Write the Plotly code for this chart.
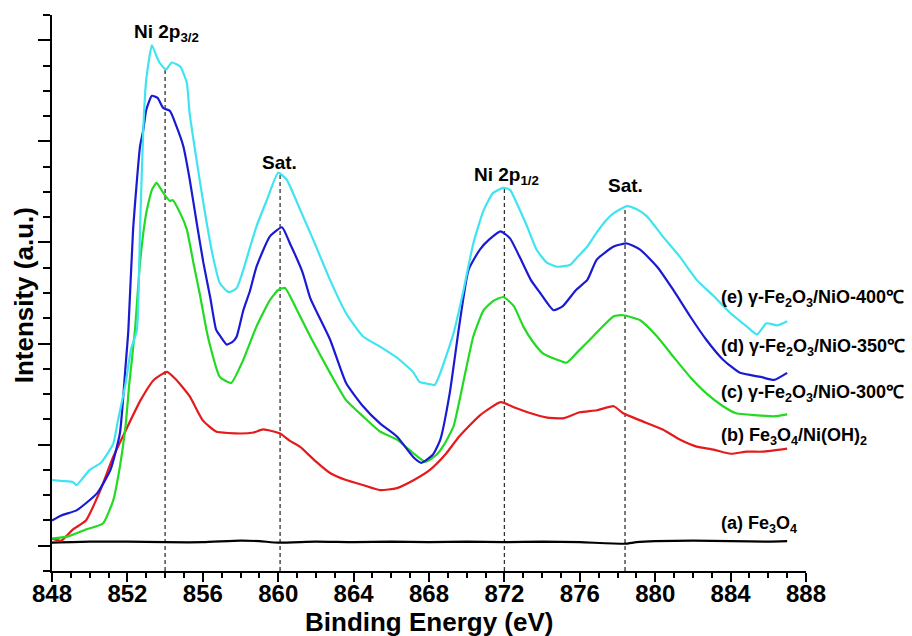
import numpy as np
import plotly.graph_objects as go

# ---- data ----
x_e = [848.0, 848.6, 849.1, 849.3, 849.6, 850.0, 850.6, 851.25, 851.5, 851.9, 852.2, 852.5, 852.67, 852.84, 853.0, 853.3, 853.55, 853.7, 854.05, 854.35, 854.8, 855.15, 855.3, 855.6, 855.85, 856.2, 856.55, 856.9, 857.27, 857.45, 857.8, 858.15, 858.5, 858.85, 859.4, 860.0, 860.45, 861.15, 861.85, 862.75, 863.6, 864.5, 865.4, 866.3, 867.15, 867.5, 868.0, 868.3, 868.6, 869.3, 869.8, 870.35, 870.9, 871.4, 871.95, 872.3, 872.65, 873.2, 873.7, 874.25, 874.8, 875.5, 875.9, 876.4, 876.9, 877.4, 877.8, 878.5, 879.0, 879.55, 880.4, 881.3, 882.2, 883.1, 884.0, 884.85, 885.4, 885.9, 886.5, 887.0]
y_e = [0.65, 0.64, 0.63, 0.60, 0.66, 0.75, 0.82, 1.01, 1.24, 1.60, 1.95, 2.13, 3.12, 4.11, 4.61, 4.95, 4.84, 4.78, 4.71, 4.78, 4.74, 4.58, 4.28, 3.90, 3.60, 3.20, 2.85, 2.60, 2.52, 2.51, 2.55, 2.73, 2.95, 3.16, 3.42, 3.69, 3.62, 3.33, 3.03, 2.63, 2.30, 2.07, 1.97, 1.86, 1.72, 1.62, 1.60, 1.59, 1.71, 2.10, 2.50, 2.99, 3.32, 3.49, 3.54, 3.52, 3.39, 3.16, 2.93, 2.80, 2.76, 2.78, 2.86, 2.96, 3.10, 3.22, 3.29, 3.36, 3.33, 3.26, 3.06, 2.86, 2.63, 2.47, 2.30, 2.17, 2.09, 2.20, 2.18, 2.22]

x_d = [848.0, 848.5, 849.3, 849.8, 850.4, 851.1, 851.6, 851.9, 852.05, 852.3, 852.67, 852.84, 853.0, 853.3, 853.6, 853.9, 854.26, 854.6, 854.97, 855.3, 855.68, 856.03, 856.4, 856.7, 856.9, 857.27, 857.6, 857.8, 858.15, 858.5, 858.85, 859.56, 860.2, 860.6, 861.3, 861.7, 862.75, 863.6, 864.5, 865.4, 866.3, 867.2, 867.6, 868.2, 868.6, 869.1, 869.6, 870.1, 870.7, 871.2, 871.8, 872.3, 872.8, 873.4, 873.9, 874.6, 875.1, 875.8, 876.4, 876.9, 877.8, 878.5, 879.2, 880.1, 880.96, 881.85, 882.7, 883.6, 884.5, 885.6, 886.3, 887.0]
y_d = [0.25, 0.30, 0.35, 0.42, 0.52, 0.75, 1.11, 1.77, 2.13, 3.12, 3.95, 4.11, 4.31, 4.45, 4.43, 4.33, 4.30, 4.15, 3.95, 3.63, 3.19, 2.80, 2.45, 2.14, 2.08, 1.99, 2.02, 2.07, 2.33, 2.52, 2.76, 3.06, 3.15, 3.00, 2.70, 2.45, 2.04, 1.61, 1.38, 1.21, 1.08, 0.87, 0.82, 0.90, 1.05, 1.51, 2.17, 2.73, 2.93, 3.03, 3.11, 3.04, 2.86, 2.63, 2.50, 2.33, 2.37, 2.53, 2.63, 2.83, 2.96, 2.99, 2.93, 2.76, 2.53, 2.27, 2.04, 1.84, 1.71, 1.67, 1.64, 1.71]

x_c = [848.0, 848.8, 849.8, 850.7, 851.25, 851.6, 851.9, 852.1, 852.4, 852.67, 853.0, 853.3, 853.55, 853.9, 854.26, 854.4, 854.8, 855.15, 855.5, 855.85, 856.2, 856.4, 856.9, 857.5, 858.15, 858.85, 859.56, 860.0, 860.36, 861.0, 861.7, 862.75, 863.6, 864.5, 865.4, 866.3, 867.2, 867.8, 868.4, 868.8, 869.3, 869.8, 870.35, 870.9, 871.4, 871.95, 872.5, 873.0, 873.5, 874.06, 874.8, 875.3, 875.9, 876.7, 877.8, 878.3, 879.2, 880.1, 880.96, 881.85, 882.7, 883.6, 884.3, 885.4, 886.3, 887.0]
y_c = [0.07, 0.09, 0.16, 0.22, 0.45, 0.78, 1.18, 1.60, 2.13, 2.80, 3.29, 3.52, 3.59, 3.49, 3.41, 3.42, 3.29, 3.13, 2.80, 2.48, 2.13, 1.97, 1.67, 1.61, 1.84, 2.17, 2.43, 2.53, 2.55, 2.33, 2.07, 1.71, 1.44, 1.28, 1.13, 1.05, 0.91, 0.83, 0.90, 1.00, 1.18, 1.60, 2.07, 2.33, 2.42, 2.46, 2.37, 2.17, 2.02, 1.90, 1.84, 1.81, 1.92, 2.07, 2.27, 2.28, 2.23, 2.07, 1.87, 1.67, 1.51, 1.38, 1.31, 1.29, 1.28, 1.30]

x_b = [848.0, 848.5, 849.1, 849.8, 850.5, 851.25, 851.96, 852.7, 853.4, 854.1, 854.6, 855.3, 856.0, 856.7, 857.97, 858.7, 859.2, 860.1, 860.6, 861.15, 861.9, 862.75, 863.6, 864.5, 865.4, 866.3, 867.2, 868.05, 868.9, 869.6, 870.7, 871.8, 872.5, 873.4, 874.2, 875.1, 876.0, 876.9, 877.8, 878.3, 879.2, 880.4, 881.3, 882.2, 883.1, 884.0, 884.85, 885.7, 887.0]
y_b = [0.07, 0.05, 0.16, 0.25, 0.52, 0.88, 1.16, 1.44, 1.64, 1.72, 1.64, 1.48, 1.24, 1.13, 1.11, 1.12, 1.15, 1.11, 1.04, 0.98, 0.85, 0.72, 0.65, 0.60, 0.55, 0.57, 0.65, 0.75, 0.91, 1.08, 1.29, 1.42, 1.37, 1.31, 1.27, 1.26, 1.32, 1.34, 1.38, 1.31, 1.24, 1.15, 1.05, 0.98, 0.95, 0.91, 0.93, 0.93, 0.96]

x_a = [848.0, 850.0, 852.0, 854.0, 856.0, 858.0, 859.0, 860.0, 862.0, 864.0, 866.0, 868.0, 870.0, 872.0, 874.0, 876.0, 878.4, 879.0, 880.0, 882.0, 884.0, 886.0, 887.0]
y_a = [0.03, 0.04, 0.04, 0.035, 0.035, 0.05, 0.045, 0.03, 0.04, 0.035, 0.04, 0.035, 0.04, 0.035, 0.04, 0.035, 0.02, 0.035, 0.045, 0.05, 0.045, 0.04, 0.045]

series_names = ["(a) Fe<sub>3</sub>O<sub>4</sub>",
                "(b) Fe<sub>3</sub>O<sub>4</sub>/Ni(OH)<sub>2</sub>",
                "(c) γ-Fe<sub>2</sub>O<sub>3</sub>/NiO-300℃",
                "(d) γ-Fe<sub>2</sub>O<sub>3</sub>/NiO-350℃",
                "(e) γ-Fe<sub>2</sub>O<sub>3</sub>/NiO-400℃"]
series_colors = ["#000000", "#E41A1C", "#22DA22", "#1A1AD4", "#3FE4F0"]

peak_positions = [854.0, 860.1, 872.0, 878.4]
peak_labels = ["Ni 2p<sub>3/2</sub>", "Sat.", "Ni 2p<sub>1/2</sub>", "Sat."]

x_title = "Binding Energy (eV)"
y_title = "Intensity (a.u.)"

xs = [x_a, x_b, x_c, x_d, x_e]
ys = [y_a, y_b, y_c, y_d, y_e]

FONT = "Arial, Liberation Sans, sans-serif"

fig = go.Figure()

# dashed guide lines from the top curve down to the axis
for p in peak_positions:
    top = float(np.interp(p, x_e, y_e))
    fig.add_trace(go.Scatter(x=[p, p], y=[-0.25, top], mode="lines",
                             line=dict(color="#333333", width=1.3, dash="4px,3px"),
                             showlegend=False, hoverinfo="skip"))

for x, y, c in zip(xs, ys, series_colors):
    fig.add_trace(go.Scatter(x=x, y=y, mode="lines",
                             line=dict(color=c, width=2.2, shape="spline", smoothing=0.5),
                             showlegend=False))

# series labels at right end
label_y = [0.21, 1.08, 1.51, 1.96, 2.45]
for name, ly in zip(series_names, label_y):
    fig.add_annotation(x=883.4, y=ly, text=name, showarrow=False,
                       xanchor="left", yanchor="middle",
                       font=dict(family=FONT, size=18, color="black", weight="bold"))

# peak labels
peak_label_x = [854.1, 860.05, 872.1, 878.4]
peak_label_y = [4.93, 3.67, 3.52, 3.44]
for px_, t, ly in zip(peak_label_x, peak_labels, peak_label_y):
    fig.add_annotation(x=px_, y=ly, text=t, showarrow=False,
                       xanchor="center", yanchor="bottom",
                       font=dict(family=FONT, size=19, color="black", weight="bold"))

# axis titles
fig.add_annotation(xref="paper", yref="paper", x=0.5, y=-0.092, text=x_title,
                   showarrow=False, xanchor="center", yanchor="middle",
                   font=dict(family=FONT, size=26, color="black", weight="bold"))
fig.add_annotation(xref="paper", yref="paper", x=-0.037, y=0.496, text=y_title,
                   showarrow=False, xanchor="center", yanchor="middle", textangle=-90,
                   font=dict(family=FONT, size=26, color="black", weight="bold"))

fig.update_layout(
    width=912, height=636,
    margin=dict(l=52, r=106, t=15, b=65),
    plot_bgcolor="white", paper_bgcolor="white",
    font=dict(family=FONT, color="black"),
)
fig.update_xaxes(
    range=[848, 888], tick0=848, dtick=4, automargin=False,
    showline=True, linewidth=2, linecolor="black", mirror=False,
    ticks="outside", ticklen=9, tickwidth=2, tickcolor="black",
    minor=dict(dtick=1, ticks="outside", ticklen=5, tickwidth=2, tickcolor="black"),
    showgrid=False, zeroline=False, ticklabelstandoff=-9,
    tickfont=dict(family=FONT, size=24, color="black", weight="bold"),
)
fig.update_yaxes(
    range=[-0.25, 5.25], tickvals=[0, 1, 2, 3, 4, 5], automargin=False,
    showticklabels=False,
    showline=True, linewidth=2, linecolor="black", mirror=False,
    ticks="outside", ticklen=12, tickwidth=2, tickcolor="black",
    minor=dict(dtick=0.25, tick0=0, ticks="outside", ticklen=7, tickwidth=2, tickcolor="black"),
    showgrid=False, zeroline=False,
)

fig.write_html("out.html")
